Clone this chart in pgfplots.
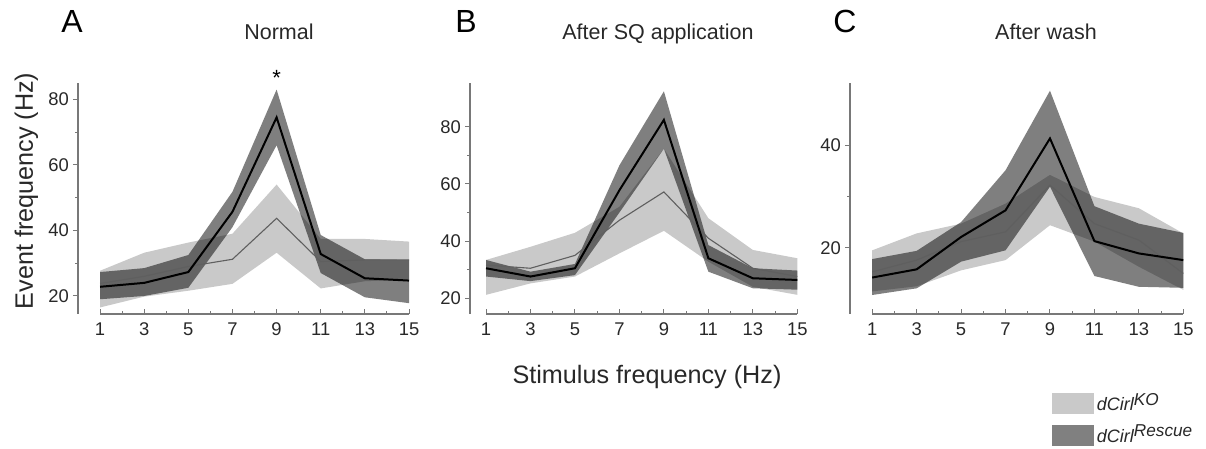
\documentclass[border=0pt]{standalone}
\usepackage{fontspec}
\setmainfont{Liberation Sans}
\usepackage{pgfplots}
\usepackage{pgfplotstable}
\pgfplotsset{compat=1.18}
\usepgfplotslibrary{fillbetween}
\definecolor{lightfill}{RGB}{201,201,201}
\definecolor{axgray}{RGB}{120,120,120}
\definecolor{labgray}{RGB}{40,40,40}
\definecolor{kogray}{RGB}{95,95,95}

\pgfplotstableread{
x klo khi km rlo rhi rm
1 16.5 27.7 23.8 19.0 27.3 22.8
3 19.8 33.2 26.0 20.0 28.5 24.0
5 21.6 36.3 29.0 22.5 32.5 27.3
7 23.7 39.0 31.2 41.0 51.8 45.7
9 33.2 54.0 43.7 66.0 83.0 74.5
11 22.3 37.4 30.5 27.0 38.6 32.8
13 24.5 37.4 31.0 19.6 31.2 25.4
15 25.0 36.6 31.0 17.8 31.0 24.7
}\dataA
\pgfplotstableread{
x klo khi km rlo rhi rm
1 21.2 33.4 31.6 27.6 33.4 30.5
3 25.2 38.0 30.5 26.0 29.3 27.6
5 27.6 42.9 35.0 28.1 32.0 30.5
7 35.7 52.0 47.3 50.0 66.5 57.8
9 43.6 72.3 57.2 72.3 92.4 82.4
11 32.8 48.0 41.0 29.3 38.6 34.0
13 24.0 36.9 30.5 23.5 30.5 27.0
15 21.2 34.0 27.6 23.0 29.7 26.4
}\dataB
\pgfplotstableread{
x klo khi km rlo rhi rm
1 11.5 19.5 15.3 10.8 17.8 14.2
3 12.5 22.8 17.6 12.1 19.4 15.8
5 15.6 24.7 21.2 17.3 25.0 22.1
7 17.6 28.6 23.1 19.5 35.1 27.3
9 24.4 34.2 32.2 31.9 50.6 41.3
11 21.2 29.9 24.7 14.5 28.1 21.3
13 16.3 27.7 21.5 12.4 24.7 18.9
15 11.8 22.8 15.0 12.2 22.9 17.6
}\dataC

\pgfplotsset{
  panel/.style={
    scale only axis, height=115.5pt, anchor=south west,
    axis x line=bottom, axis y line=left,
    axis line style={-, draw=axgray, line width=0.6pt},
    x axis line style={draw=none},
    xmax=15,
    xtick={1,3,...,15}, minor x tick num=1,
    minor y tick num=1,
    tick style={draw=axgray, line width=0.5pt},
    major tick length=2.5pt, minor tick length=1.5pt,
    xtick align=inside, ytick align=outside,
    tick label style={font=\fontsize{9.2}{10}\selectfont, text=labgray},
    yticklabel style={xshift=1.5pt},
    xticklabel style={yshift=-1pt},
    /pgf/number format/assume math mode=true,
    clip=false,
  },
}
\newcommand{\bands}[1]{%
  \addplot[name path=klo, draw=none, forget plot] table[x=x,y=klo] {#1};
  \addplot[name path=khi, draw=none, forget plot] table[x=x,y=khi] {#1};
  \addplot[fill=lightfill, draw=none, forget plot] fill between[of=klo and khi];
  \addplot[kogray, line width=0.55pt, forget plot] table[x=x,y=km] {#1};
  \addplot[name path=rlo, draw=none, forget plot] table[x=x,y=rlo] {#1};
  \addplot[name path=rhi, draw=none, forget plot] table[x=x,y=rhi] {#1};
  \addplot[fill=black, fill opacity=0.5, draw=none, forget plot] fill between[of=rlo and rhi];
  \addplot[black, line width=1pt, forget plot] table[x=x,y=rm] {#1};
}

\begin{document}
\begin{tikzpicture}
\path (0,0) rectangle (603pt,224.5pt);

\begin{axis}[panel, at={(39pt,67.5pt)}, width=165.5pt, xmin=0, ymin=14.5, ymax=85, ytick={20,40,60,80}]
\bands{\dataA}
\draw[axgray, line width=0.6pt] (axis cs:1,14.5) -- (axis cs:15,14.5);
\node[font=\fontsize{11}{12}\selectfont] at (axis cs:9,86.6) {*};
\end{axis}

\begin{axis}[panel, at={(235pt,67.5pt)}, width=163.65pt, xmin=0.28, ymin=14.5, ymax=95.3, ytick={20,40,60,80}]
\bands{\dataB}
\draw[axgray, line width=0.6pt] (axis cs:1,14.5) -- (axis cs:15,14.5);
\end{axis}

\begin{axis}[panel, at={(425pt,67.5pt)}, width=166.65pt, xmin=0, ymin=7.1, ymax=52.1, ytick={20,40},
  legend style={at={(axis description cs:0.6066,-0.33)}, anchor=north west, draw=none, fill=none,
    inner sep=0pt, outer sep=0pt, row sep=2.5pt, font=\fontsize{9}{10}\selectfont, text=labgray,
    nodes={inner sep=1.5pt}},
  legend cell align=left]
\addlegendimage{legend image code/.code={\fill[lightfill] (0pt,-5pt) rectangle (20.5pt,5pt);}}
\addlegendentry{\textit{dCirl\raisebox{0.6ex}{\fontsize{8.6}{9}\selectfont KO}}}
\addlegendimage{legend image code/.code={\fill[black!50] (0pt,-5pt) rectangle (20.5pt,5pt);}}
\addlegendentry{\textit{dCirl\raisebox{0.6ex}{\fontsize{8.6}{9}\selectfont Rescue}}}
\bands{\dataC}
\draw[axgray, line width=0.6pt] (axis cs:1,7.1) -- (axis cs:15,7.1);
\end{axis}

\node[font=\fontsize{16}{18}\selectfont, anchor=base] at (36pt,208pt) {A};
\node[font=\fontsize{16}{18}\selectfont, anchor=base] at (233pt,208pt) {B};
\node[font=\fontsize{16}{18}\selectfont, anchor=base] at (422.5pt,208pt) {C};
\node[font=\fontsize{10.75}{12}\selectfont, text=labgray, anchor=base] at (139.5pt,204.5pt) {Normal};
\node[font=\fontsize{10.75}{12}\selectfont, text=labgray, anchor=base] at (329pt,204.5pt) {After SQ application};
\node[font=\fontsize{10.75}{12}\selectfont, text=labgray, anchor=base] at (523pt,204.5pt) {After wash};
\node[font=\fontsize{12.6}{14}\selectfont, text=labgray, anchor=base] at (323.5pt,32.5pt) {Stimulus frequency (Hz)};
\node[font=\fontsize{12.6}{14}\selectfont, text=labgray, anchor=base, rotate=90] at (16.5pt,129pt) {Event frequency (Hz)};
\end{tikzpicture}
\end{document}
